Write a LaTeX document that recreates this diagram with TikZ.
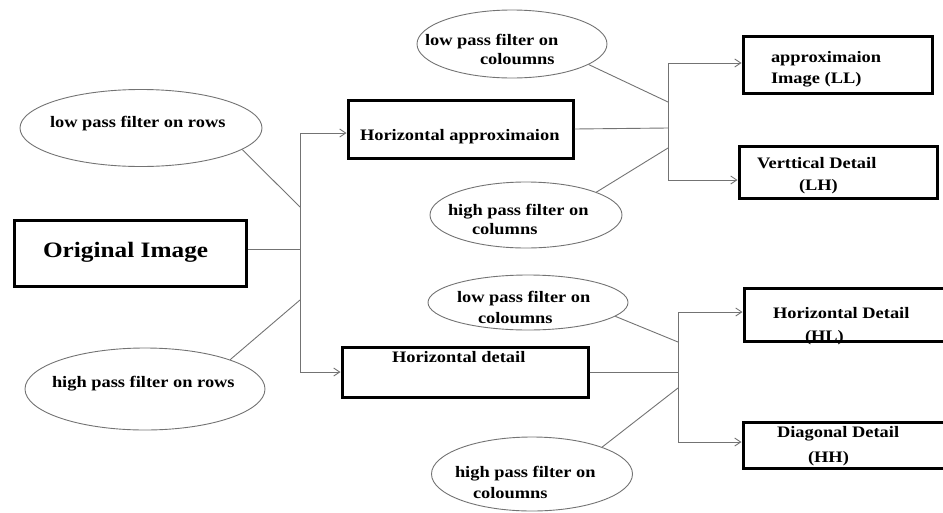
\documentclass[tikz,border=0pt]{standalone}
\usepackage{fontspec}
\setmainfont{Liberation Serif}
\newfontfamily\df[FakeStretch=1.15]{Liberation Serif}
\usetikzlibrary{shapes.geometric,arrows.meta}
\newcommand{\place}[3]{\makebox[0pt][l]{\hspace*{#1}\raisebox{-#2}{#3}}}
\newcommand{\twoln}[4]{\vtop{\baselineskip=#1\hbox{#2}\hbox{\hspace*{#3}#4}}}
\begin{document}
\begin{tikzpicture}[x=1pt,y=-1pt,
  sz/.style 2 args={minimum width=#1pt,minimum height=#2pt},
  box/.style={draw=black, line width=3pt, rectangle, inner sep=0pt,
    text height=0pt, text depth=0pt, font=\df\bfseries\fontsize{16}{20}\selectfont},
  oval/.style={draw=black!55, line width=0.9pt, ellipse, inner sep=0pt,
    text height=0pt, text depth=0pt, font=\df\bfseries\fontsize{16}{20}\selectfont},
  conn/.style={draw=black!55, line width=0.9pt},
  arr/.style={conn, -{Straight Barb[length=6pt,width=8pt]}}]
\useasboundingbox (0,0) rectangle (943,512);

% boxes
\node[box, sz={232}{66}, font=\df\bfseries\fontsize{22}{26}\selectfont] (orig) at (130,253)
  {\place{-87pt}{4pt}{Original Image}};
\node[box, sz={225}{58}] (ha) at (460.5,129) {\place{-100.5pt}{11pt}{Horizontal approximaion}};
\node[box, sz={246}{50}] (hd) at (465,372) {\place{-73pt}{-10pt}{Horizontal detail}};
\node[box, sz={189}{57}] (ll) at (837.5,64.5)
  {\place{-66.5pt}{-2.5pt}{\twoln{21pt}{approximaion}{0pt}{Image (LL)}}};
\node[box, sz={198}{52}] (lh) at (838,172)
  {\place{-81pt}{-4pt}{\twoln{22pt}{Verttical Detail}{42pt}{(LH)}}};
\node[box, sz={210}{53}] (hl) at (849,314.5)
  {\place{-76pt}{3.5pt}{\twoln{23pt}{Horizontal Detail}{32pt}{(HL)}}};
\node[box, sz={211}{46}] (hh) at (848.5,445)
  {\place{-71.5pt}{-8pt}{\twoln{25pt}{Diagonal Detail}{31pt}{(HH)}}};

% ellipses
\node[oval, sz={242}{77}] (elpr) at (141,128) {\place{-91pt}{-1pt}{low pass filter on rows}};
\node[oval, sz={240}{82}] (ehpr) at (145,389) {\place{-93pt}{-2pt}{high pass filter on rows}};
\node[oval, sz={190}{68}] (elpc1) at (512,44)
  {\place{-87pt}{1pt}{\twoln{19pt}{low pass filter on}{55pt}{coloumns}}};
\node[oval, sz={192}{66}] (ehpc1) at (526,215)
  {\place{-78pt}{0pt}{\twoln{19pt}{high pass filter on}{24pt}{columns}}};
\node[oval, sz={200}{55}] (elpc2) at (528,302.5)
  {\place{-71pt}{-0.5pt}{\twoln{21pt}{low pass filter on}{21pt}{coloumns}}};
\node[oval, sz={201}{74}] (ehpc2) at (532,474)
  {\place{-77pt}{3pt}{\twoln{21pt}{high pass filter on}{18pt}{coloumns}}};

% left junction
\coordinate (t1) at (300,133); \coordinate (t2) at (300,372);
\coordinate (j0) at (300,249);
\coordinate (c1) at (300,207); \coordinate (c2) at (300,300);
\draw[conn] (t1) -- (t2);
\draw[conn] (orig.east |- j0) -- (j0);
\draw[arr] (t1) -- (ha.west |- t1);
\draw[arr] (t2) -- (hd.west |- t2);
\draw[conn] (elpr.-12.5) -- (c1);
\draw[conn] (ehpr.19) -- (c2);

% top right junction
\coordinate (t3) at (668,63); \coordinate (t4) at (668,180);
\coordinate (j1) at (668,128);
\coordinate (c3) at (668,102); \coordinate (c4) at (668,148);
\draw[conn] (t3) -- (t4);
\draw[conn] (ha.east) -- (j1);
\draw[arr] (t3) -- (ll.west |- t3);
\draw[arr] (t4) -- (lh.west |- t4);
\draw[conn] (elpc1.-15) -- (c3);
\draw[conn] (ehpc1.18) -- (c4);

% bottom right junction
\coordinate (t5) at (678,312); \coordinate (t6) at (678,442);
\coordinate (j2) at (678,372);
\coordinate (c5) at (678,342); \coordinate (c6) at (678,388);
\draw[conn] (t5) -- (t6);
\draw[conn] (hd.east) -- (j2);
\draw[arr] (t5) -- (hl.west |- t5);
\draw[arr] (t6) -- (hh.west |- t6);
\draw[conn] (elpc2.-9) -- (c5);
\draw[conn] (ehpc2.21) -- (c6);
\end{tikzpicture}
\end{document}
